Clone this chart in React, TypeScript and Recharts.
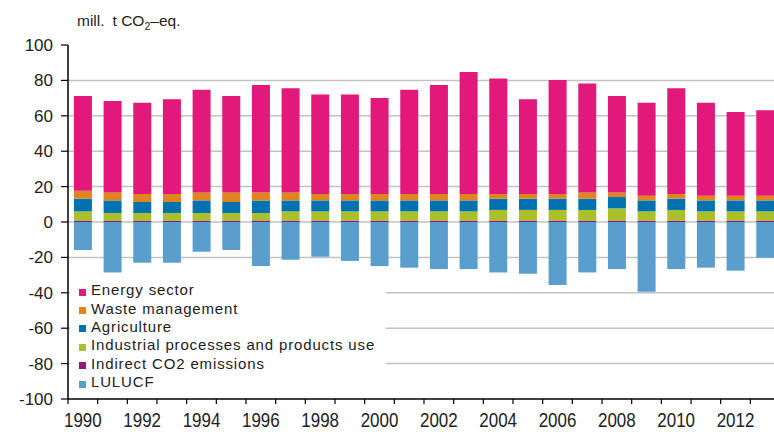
import React from 'react';
import { BarChart, Bar, XAxis, YAxis, CartesianGrid } from 'recharts';

const years = [1990, 1991, 1992, 1993, 1994, 1995, 1996, 1997, 1998, 1999, 2000, 2001, 2002, 2003, 2004, 2005, 2006, 2007, 2008, 2009, 2010, 2011, 2012, 2013];
const energy = [53.5, 51.7, 51.6, 53.5, 58.0, 54.5, 60.7, 58.8, 56.3, 56.3, 54.2, 58.9, 61.6, 68.9, 65.3, 53.5, 64.4, 61.6, 54.5, 52.5, 59.7, 52.5, 47.2, 48.2];
const waste = [4.5, 4.5, 4.5, 4.5, 4.5, 5.4, 4.5, 4.5, 3.6, 3.6, 3.6, 3.6, 3.6, 3.6, 2.6, 2.6, 2.6, 3.5, 2.6, 2.7, 2.6, 2.7, 2.7, 2.7];
const agriculture = [7.2, 7.1, 6.2, 6.2, 7.1, 6.2, 7.1, 6.2, 6.2, 6.2, 6.2, 6.2, 6.2, 6.2, 6.4, 6.4, 6.4, 6.4, 6.4, 6.2, 6.4, 6.2, 6.2, 6.2];
const industrial = [5.2, 4.3, 4.3, 4.3, 4.3, 4.3, 4.3, 5.2, 5.2, 5.2, 5.2, 5.2, 5.2, 5.2, 6.0, 6.0, 6.0, 6.0, 6.9, 5.2, 6.0, 5.2, 5.2, 5.2];
const indirect = [0.8, 0.8, 0.8, 0.8, 0.8, 0.8, 0.8, 0.8, 0.8, 0.8, 0.8, 0.8, 0.8, 0.8, 0.8, 0.8, 0.8, 0.8, 0.8, 0.8, 0.8, 0.8, 0.8, 0.8];
const lulucf = [-15.8, -28.5, -23.0, -23.0, -16.8, -15.8, -24.9, -21.3, -19.6, -22.0, -24.9, -25.8, -26.6, -26.6, -28.5, -29.2, -35.6, -28.5, -26.6, -39.4, -26.6, -25.8, -27.5, -20.2];

const yTicks = [-100, -80, -60, -40, -20, 0, 20, 40, 60, 80, 100];
const gridValues = [-80, -60, -40, -20, 0, 20, 40, 60, 80];

// stacking order (bottom up)
const series = [
  { key: 'indirect', name: 'Indirect CO2 emissions', color: '#8E1A72', values: indirect },
  { key: 'industrial', name: 'Industrial processes and products use', color: '#A9C02B', values: industrial },
  { key: 'agriculture', name: 'Agriculture', color: '#0072B2', values: agriculture },
  { key: 'waste', name: 'Waste management', color: '#DF841F', values: waste },
  { key: 'energy', name: 'Energy sector', color: '#E2187A', values: energy },
  { key: 'lulucf', name: 'LULUCF', color: '#5A9ECD', values: lulucf },
];
const legendOrder = ['energy', 'waste', 'agriculture', 'industrial', 'indirect', 'lulucf'];

const data = years.map((y, i) => {
  const row: any = { year: String(y) };
  series.forEach((s) => { row[s.key] = s.values[i]; });
  return row;
});

const FONT = '"Liberation Sans", Arial, sans-serif';

const XTick = (props: any) => {
  const { x, y, payload } = props;
  const half = payload && typeof payload.offset === 'number' ? payload.offset : 15;
  const show = Number(payload.value) % 2 === 0;
  return (
    <g>
      <line x1={x - half} x2={x - half} y1={y - 8} y2={y - 3} stroke="#000" strokeWidth={1.2} />
      {show && (
        <text
          transform={`translate(${x},${y + 20}) scale(0.87,1)`}
          textAnchor="middle"
          fontSize={19.5}
          fill="#222"
          fontFamily={FONT}
        >
          {payload.value}
        </text>
      )}
    </g>
  );
};

const UnitLabel = (props: any) => {
  const vb = props.viewBox || { x: 0, y: 37 };
  return (
    <text x={vb.x + 69} y={vb.y - 19} fontSize={15.5} fill="#222" fontFamily={FONT}>
      mill.
      <tspan dx={8}>t CO</tspan>
      <tspan fontSize={10.5} dy={4}>2</tspan>
      <tspan dy={-4}>–eq.</tspan>
    </text>
  );
};

export default function App() {
  return (
    <div style={{ position: 'absolute', left: 8, top: 8, width: 766, height: 424, overflow: 'hidden', fontFamily: FONT }}>
      <BarChart
        width={772}
        height={424}
        data={data}
        margin={{ top: 37, right: 0, bottom: 3, left: 0 }}
        stackOffset="sign"
        barCategoryGap="20%"
      >
        <CartesianGrid vertical={false} horizontalValues={gridValues} stroke="#c2c2c2" strokeWidth={1.5} />
        <XAxis
          dataKey="year"
          interval={0}
          tickLine={false}
          tickSize={6}
          tickMargin={2}
          height={30}
          axisLine={{ stroke: '#000', strokeWidth: 1.5 }}
          tick={<XTick />}
        />
        <YAxis
          type="number"
          domain={[-100, 100]}
          ticks={yTicks}
          interval={0}
          width={60}
          tickSize={7}
          tickMargin={8}
          axisLine={{ stroke: '#000', strokeWidth: 1.5 }}
          tickLine={{ stroke: '#000', strokeWidth: 1.2 }}
          tick={{ fontSize: 17, fill: '#222', fontFamily: FONT }}
          label={{ content: <UnitLabel /> }}
        />
        {series.map((s) => (
          <Bar key={s.key} dataKey={s.key} name={s.name} stackId="a" fill={s.color} isAnimationActive={false} />
        ))}
      </BarChart>
      <div
        style={{
          position: 'absolute',
          left: 62,
          top: 271,
          width: 316,
          height: 116,
          background: '#fff',
          paddingTop: 2,
          boxSizing: 'border-box',
        }}
      >
        {legendOrder.map((k) => {
          const s = series.find((d) => d.key === k)!;
          return (
            <div key={k} style={{ display: 'flex', alignItems: 'center', height: 18.4, paddingLeft: 9 }}>
              <span
                style={{
                  display: 'inline-block',
                  width: 7,
                  height: 7,
                  background: s.color,
                  marginRight: 5,
                  position: 'relative',
                  top: 2,
                }}
              />
              <span style={{ fontSize: 15, color: '#222', whiteSpace: 'nowrap', lineHeight: '18px', letterSpacing: '0.85px' }}>
                {s.name}
              </span>
            </div>
          );
        })}
      </div>
    </div>
  );
}
